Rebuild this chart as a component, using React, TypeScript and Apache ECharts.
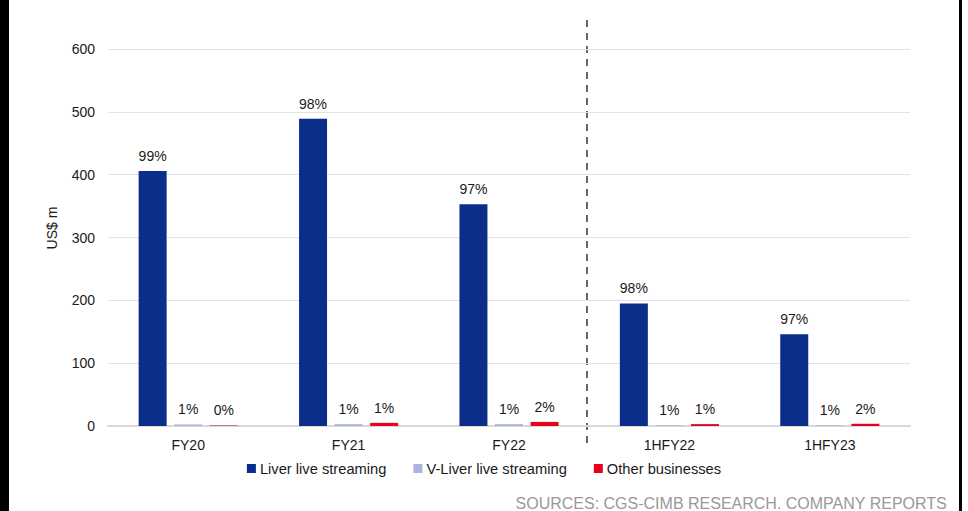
import React, { useEffect, useRef } from "react";
import * as echarts from "echarts";

const categories = ["FY20", "FY21", "FY22", "1HFY22", "1HFY23"];
const liverValues = [406, 489, 353, 195, 146];
const vliverValues = [2.5, 3, 3, 1.2, 1.2];
const otherValues = [0.8, 5, 6.5, 3, 3.5];
const liverPct = ["99%", "98%", "97%", "98%", "97%"];
const vliverPct = ["1%", "1%", "1%", "1%", "1%"];
const otherPct = ["0%", "1%", "2%", "1%", "2%"];
const yTicks = { min: 0, max: 600, interval: 100 };

const FONT = "'Liberation Sans', Arial, sans-serif";

export default function App() {
  const ref = useRef<HTMLDivElement>(null);
  useEffect(() => {
    if (!ref.current) return;
    const chart = echarts.init(ref.current, undefined, { renderer: "svg" });
    const label = (arr: string[]) => ({
      show: true,
      position: "top" as const,
      distance: 8,
      fontSize: 14,
      fontFamily: FONT,
      color: "#1a1a1a",
      formatter: (p: any) => arr[p.dataIndex],
    });
    chart.setOption({
      animation: false,
      backgroundColor: "#ffffff",
      textStyle: { fontFamily: FONT },
      grid: { left: 108, right: 58, top: 49, bottom: 85, containLabel: false },
      xAxis: {
        type: "category",
        data: categories,
        axisLine: { show: true, lineStyle: { color: "#d9d9d9", width: 2 } },
        axisTick: { show: false },
        axisLabel: { fontSize: 14, color: "#1a1a1a", fontFamily: FONT, margin: 12 },
      },
      yAxis: {
        type: "value",
        min: yTicks.min,
        max: yTicks.max,
        interval: yTicks.interval,
        axisLine: { show: false },
        axisTick: { show: false },
        splitLine: { lineStyle: { color: "#e3e3e3", width: 1 } },
        axisLabel: { fontSize: 14, color: "#1a1a1a", fontFamily: FONT, margin: 13 },
      },
      legend: {
        bottom: 30,
        left: "center",
        itemWidth: 9,
        itemHeight: 9,
        itemGap: 27,
        icon: "rect",
        textStyle: { fontSize: 14.7, color: "#1a1a1a", fontFamily: FONT, padding: [0, 0, 0, -1] },
        data: ["Liver live streaming", "V-Liver live streaming", "Other businesses"],
      },
      series: [
        {
          name: "Liver live streaming",
          type: "bar",
          data: liverValues,
          barWidth: 28,
          barGap: "27%",
          itemStyle: { color: "#0a2e8a" },
          label: label(liverPct),
        },
        {
          name: "V-Liver live streaming",
          type: "bar",
          data: vliverValues,
          barWidth: 28,
          barGap: "27%",
          itemStyle: { color: "#a9b5dc" },
          label: label(vliverPct),
        },
        {
          name: "Other businesses",
          type: "bar",
          data: otherValues,
          barWidth: 28,
          barGap: "27%",
          itemStyle: { color: "#e8001c" },
          label: label(otherPct),
        },
      ],
      graphic: [
        { type: "rect", left: 0, top: 0, shape: { width: 9, height: 511 }, style: { fill: "#000" }, silent: true },
        { type: "rect", left: 959, top: 0, shape: { width: 3, height: 511 }, style: { fill: "#000" }, silent: true },
        {
          type: "line",
          shape: { x1: 587, y1: 20, x2: 587, y2: 448 },
          style: { stroke: "#666666", lineWidth: 2, lineDash: [7, 6] },
          silent: true,
        },
        {
          type: "text",
          x: 52,
          y: 228,
          rotation: Math.PI / 2,
          style: {
            text: "US$ m",
            fontSize: 14,
            fontFamily: FONT,
            fill: "#1a1a1a",
            align: "center",
            verticalAlign: "middle",
          },
          silent: true,
        },
        {
          type: "text",
          right: 21,
          top: 495,
          style: {
            text: "SOURCES: CGS-CIMB RESEARCH. COMPANY REPORTS",
            fontSize: 16,
            fontFamily: FONT,
            fill: "#999999",
          },
          silent: true,
        },
      ],
    });
    return () => chart.dispose();
  }, []);
  return (
    <div
      ref={ref}
      style={{ position: "fixed", left: 0, top: 0, width: 968, height: 511, background: "#fff" }}
    />
  );
}
